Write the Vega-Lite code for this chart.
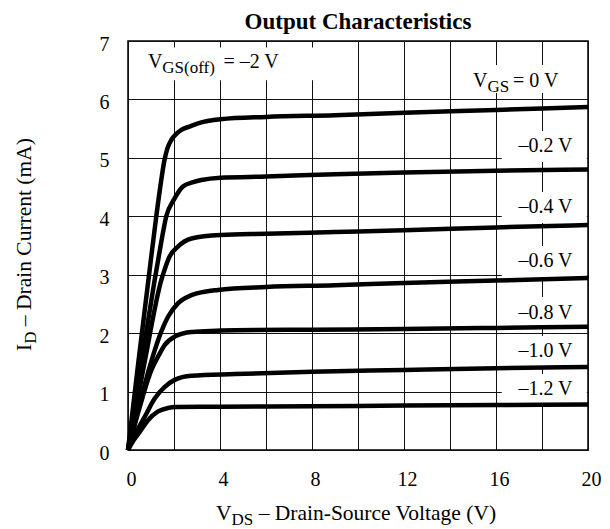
{
  "$schema": "https://vega.github.io/schema/vega-lite/v6.json",
  "width": 460,
  "height": 409,
  "autosize": {"type": "none"},
  "padding": {"left": 128, "top": 41, "right": 22, "bottom": 79},
  "background": "white",
  "title": {"text": "Output Characteristics", "font": "Liberation Serif", "fontSize": 23, "fontWeight": "bold", "color": "black", "anchor": "middle", "frame": "group", "baseline": "alphabetic", "offset": 0, "dy": 18},
  "datasets": {
    "curves": [
      {"vgs": "0", "v": 0, "i": 0}, {"vgs": "0", "v": 0.45, "i": 1.5}, {"vgs": "0", "v": 0.9, "i": 2.95}, {"vgs": "0", "v": 1.23, "i": 4.0}, {"vgs": "0", "v": 1.42, "i": 4.55}, {"vgs": "0", "v": 1.58, "i": 4.95}, {"vgs": "0", "v": 1.72, "i": 5.17}, {"vgs": "0", "v": 1.89, "i": 5.31}, {"vgs": "0", "v": 2.1, "i": 5.41}, {"vgs": "0", "v": 2.32, "i": 5.48}, {"vgs": "0", "v": 2.7, "i": 5.54}, {"vgs": "0", "v": 3.04, "i": 5.59}, {"vgs": "0", "v": 4.02, "i": 5.66}, {"vgs": "0", "v": 6, "i": 5.7}, {"vgs": "0", "v": 9, "i": 5.73}, {"vgs": "0", "v": 12, "i": 5.77}, {"vgs": "0", "v": 16, "i": 5.82}, {"vgs": "0", "v": 20, "i": 5.87},
      {"vgs": "-0.2", "v": 0, "i": 0}, {"vgs": "-0.2", "v": 0.58, "i": 1.5}, {"vgs": "-0.2", "v": 1.16, "i": 2.91}, {"vgs": "-0.2", "v": 1.42, "i": 3.5}, {"vgs": "-0.2", "v": 1.67, "i": 4.01}, {"vgs": "-0.2", "v": 1.99, "i": 4.28}, {"vgs": "-0.2", "v": 2.39, "i": 4.51}, {"vgs": "-0.2", "v": 2.8, "i": 4.58}, {"vgs": "-0.2", "v": 3.19, "i": 4.62}, {"vgs": "-0.2", "v": 4.02, "i": 4.66}, {"vgs": "-0.2", "v": 6, "i": 4.68}, {"vgs": "-0.2", "v": 9, "i": 4.72}, {"vgs": "-0.2", "v": 12, "i": 4.75}, {"vgs": "-0.2", "v": 16, "i": 4.78}, {"vgs": "-0.2", "v": 20, "i": 4.8},
      {"vgs": "-0.4", "v": 0, "i": 0}, {"vgs": "-0.4", "v": 0.72, "i": 1.5}, {"vgs": "-0.4", "v": 1.45, "i": 2.91}, {"vgs": "-0.4", "v": 1.62, "i": 3.12}, {"vgs": "-0.4", "v": 1.81, "i": 3.31}, {"vgs": "-0.4", "v": 2.17, "i": 3.48}, {"vgs": "-0.4", "v": 2.76, "i": 3.62}, {"vgs": "-0.4", "v": 4.02, "i": 3.68}, {"vgs": "-0.4", "v": 6, "i": 3.7}, {"vgs": "-0.4", "v": 9, "i": 3.73}, {"vgs": "-0.4", "v": 12, "i": 3.76}, {"vgs": "-0.4", "v": 16, "i": 3.81}, {"vgs": "-0.4", "v": 20, "i": 3.85},
      {"vgs": "-0.6", "v": 0, "i": 0}, {"vgs": "-0.6", "v": 0.5, "i": 0.78}, {"vgs": "-0.6", "v": 1.0, "i": 1.5}, {"vgs": "-0.6", "v": 1.45, "i": 2.03}, {"vgs": "-0.6", "v": 1.74, "i": 2.28}, {"vgs": "-0.6", "v": 2.17, "i": 2.51}, {"vgs": "-0.6", "v": 2.76, "i": 2.65}, {"vgs": "-0.6", "v": 3.91, "i": 2.74}, {"vgs": "-0.6", "v": 6, "i": 2.79}, {"vgs": "-0.6", "v": 9, "i": 2.82}, {"vgs": "-0.6", "v": 12, "i": 2.86}, {"vgs": "-0.6", "v": 16, "i": 2.9}, {"vgs": "-0.6", "v": 20, "i": 2.945},
      {"vgs": "-0.8", "v": 0, "i": 0}, {"vgs": "-0.8", "v": 0.5, "i": 0.72}, {"vgs": "-0.8", "v": 1.02, "i": 1.37}, {"vgs": "-0.8", "v": 1.31, "i": 1.6}, {"vgs": "-0.8", "v": 1.6, "i": 1.8}, {"vgs": "-0.8", "v": 2.03, "i": 1.94}, {"vgs": "-0.8", "v": 2.76, "i": 2.02}, {"vgs": "-0.8", "v": 4.64, "i": 2.05}, {"vgs": "-0.8", "v": 8, "i": 2.06}, {"vgs": "-0.8", "v": 12, "i": 2.07}, {"vgs": "-0.8", "v": 16, "i": 2.09}, {"vgs": "-0.8", "v": 20, "i": 2.11},
      {"vgs": "-1.0", "v": 0, "i": 0}, {"vgs": "-1.0", "v": 0.35, "i": 0.3}, {"vgs": "-1.0", "v": 0.73, "i": 0.57}, {"vgs": "-1.0", "v": 1.16, "i": 0.88}, {"vgs": "-1.0", "v": 1.6, "i": 1.08}, {"vgs": "-1.0", "v": 2.03, "i": 1.2}, {"vgs": "-1.0", "v": 2.76, "i": 1.27}, {"vgs": "-1.0", "v": 4.64, "i": 1.3}, {"vgs": "-1.0", "v": 8, "i": 1.34}, {"vgs": "-1.0", "v": 12, "i": 1.37}, {"vgs": "-1.0", "v": 16, "i": 1.4}, {"vgs": "-1.0", "v": 20, "i": 1.42},
      {"vgs": "-1.2", "v": 0, "i": 0}, {"vgs": "-1.2", "v": 0.25, "i": 0.17}, {"vgs": "-1.2", "v": 0.51, "i": 0.31}, {"vgs": "-1.2", "v": 0.87, "i": 0.51}, {"vgs": "-1.2", "v": 1.31, "i": 0.66}, {"vgs": "-1.2", "v": 1.74, "i": 0.72}, {"vgs": "-1.2", "v": 2.1, "i": 0.735}, {"vgs": "-1.2", "v": 4, "i": 0.74}, {"vgs": "-1.2", "v": 8, "i": 0.75}, {"vgs": "-1.2", "v": 12, "i": 0.76}, {"vgs": "-1.2", "v": 16, "i": 0.77}, {"vgs": "-1.2", "v": 20, "i": 0.78}
    ],
    "boxes": [
      {"v": 0.05, "v2": 8.35, "i": 6.33, "i2": 6.89},
      {"v": 14.5, "v2": 19.95, "i": 6.11, "i2": 6.59},
      {"v": 16.25, "v2": 19.95, "i": 4.93, "i2": 5.46},
      {"v": 16.25, "v2": 19.95, "i": 3.885, "i2": 4.415},
      {"v": 16.25, "v2": 19.95, "i": 2.96, "i2": 3.49},
      {"v": 16.25, "v2": 19.95, "i": 2.09, "i2": 2.62},
      {"v": 16.25, "v2": 19.95, "i": 1.42, "i2": 1.95},
      {"v": 16.25, "v2": 19.95, "i": 0.77, "i2": 1.3}
    ],
    "centerLabels": [
      {"t": "–0.2 V", "v": 18.15, "i": 5.1},
      {"t": "–0.4 V", "v": 18.15, "i": 4.05},
      {"t": "–0.6 V", "v": 18.15, "i": 3.14},
      {"t": "–0.8 V", "v": 18.15, "i": 2.25},
      {"t": "–1.0 V", "v": 18.15, "i": 1.6},
      {"t": "–1.2 V", "v": 18.15, "i": 0.94}
    ],
    "leftParts": [
      {"t": "V", "v": 0.87, "i": 6.54},
      {"t": "= –2 V", "v": 4.15, "i": 6.54},
      {"t": "V", "v": 15.0, "i": 6.22},
      {"t": "= 0 V", "v": 16.74, "i": 6.22}
    ],
    "subs": [
      {"t": "GS(off)", "v": 1.49, "i": 6.54},
      {"t": "GS", "v": 15.63, "i": 6.22}
    ],
    "xTitle": [
      {"t": "V", "v": 3.83, "i": -1.2},
      {"t": "– Drain-Source Voltage (V)", "v": 5.68, "i": -1.2}
    ],
    "xSub": [{"t": "DS", "v": 4.5, "i": -1.2}],
    "yTitle": [
      {"t": "I", "v": -4.23, "i": 1.694},
      {"t": "– Drain Current (mA)", "v": -4.23, "i": 2.12}
    ],
    "ySub": [{"t": "D", "v": -4.23, "i": 1.818}]
  },
  "encoding": {
    "x": {
      "field": "v", "type": "quantitative",
      "scale": {"domain": [0, 20], "nice": false, "zero": false},
      "axis": {"title": null, "values": [0, 2, 4, 6, 8, 10, 12, 14, 16, 18, 20], "labelExpr": "datum.value % 4 === 0 ? datum.label : ''", "labelOffset": 3}
    },
    "y": {
      "field": "i", "type": "quantitative",
      "scale": {"domain": [0, 7], "nice": false, "zero": false},
      "axis": {"title": null, "values": [0, 1, 2, 3, 4, 5, 6, 7], "labelOffset": 3}
    }
  },
  "layer": [
    {
      "data": {"name": "boxes"},
      "mark": {"type": "rect", "fill": "white", "strokeWidth": 0},
      "encoding": {"x2": {"field": "v2"}, "y2": {"field": "i2"}}
    },
    {
      "data": {"name": "curves"},
      "mark": {"type": "line", "interpolate": "monotone", "stroke": "black", "strokeWidth": 4.5, "strokeJoin": "round"},
      "encoding": {"detail": {"field": "vgs", "type": "nominal"}}
    },
    {
      "data": {"name": "centerLabels"},
      "mark": {"type": "text", "align": "center", "baseline": "alphabetic", "font": "Liberation Serif", "fontSize": 20, "color": "black"},
      "encoding": {"text": {"field": "t"}}
    },
    {
      "data": {"name": "leftParts"},
      "mark": {"type": "text", "align": "left", "baseline": "alphabetic", "font": "Liberation Serif", "fontSize": 20, "color": "black"},
      "encoding": {"text": {"field": "t"}}
    },
    {
      "data": {"name": "subs"},
      "mark": {"type": "text", "align": "left", "baseline": "alphabetic", "font": "Liberation Serif", "fontSize": 17, "dy": 5, "color": "black"},
      "encoding": {"text": {"field": "t"}}
    },
    {
      "data": {"name": "xTitle"},
      "mark": {"type": "text", "align": "left", "baseline": "alphabetic", "font": "Liberation Serif", "fontSize": 21.5, "color": "black"},
      "encoding": {"text": {"field": "t"}}
    },
    {
      "data": {"name": "xSub"},
      "mark": {"type": "text", "align": "left", "baseline": "alphabetic", "font": "Liberation Serif", "fontSize": 17, "dy": 5, "color": "black"},
      "encoding": {"text": {"field": "t"}}
    },
    {
      "data": {"name": "yTitle"},
      "mark": {"type": "text", "align": "left", "baseline": "alphabetic", "angle": 270, "font": "Liberation Serif", "fontSize": 21.5, "color": "black"},
      "encoding": {"text": {"field": "t"}}
    },
    {
      "data": {"name": "ySub"},
      "mark": {"type": "text", "align": "left", "baseline": "alphabetic", "angle": 270, "font": "Liberation Serif", "fontSize": 17, "dy": 5, "color": "black"},
      "encoding": {"text": {"field": "t"}}
    }
  ],
  "config": {
    "view": {"stroke": "black", "strokeWidth": 1.5},
    "font": "Liberation Serif",
    "axis": {
      "domain": false, "ticks": false, "grid": true, "gridColor": "#111111", "gridWidth": 1, "gridOpacity": 1,
      "labelFont": "Liberation Serif", "labelFontSize": 20, "labelColor": "black", "labelPadding": 19,
      "labelFlush": false, "labelOverlap": false
    }
  }
}
